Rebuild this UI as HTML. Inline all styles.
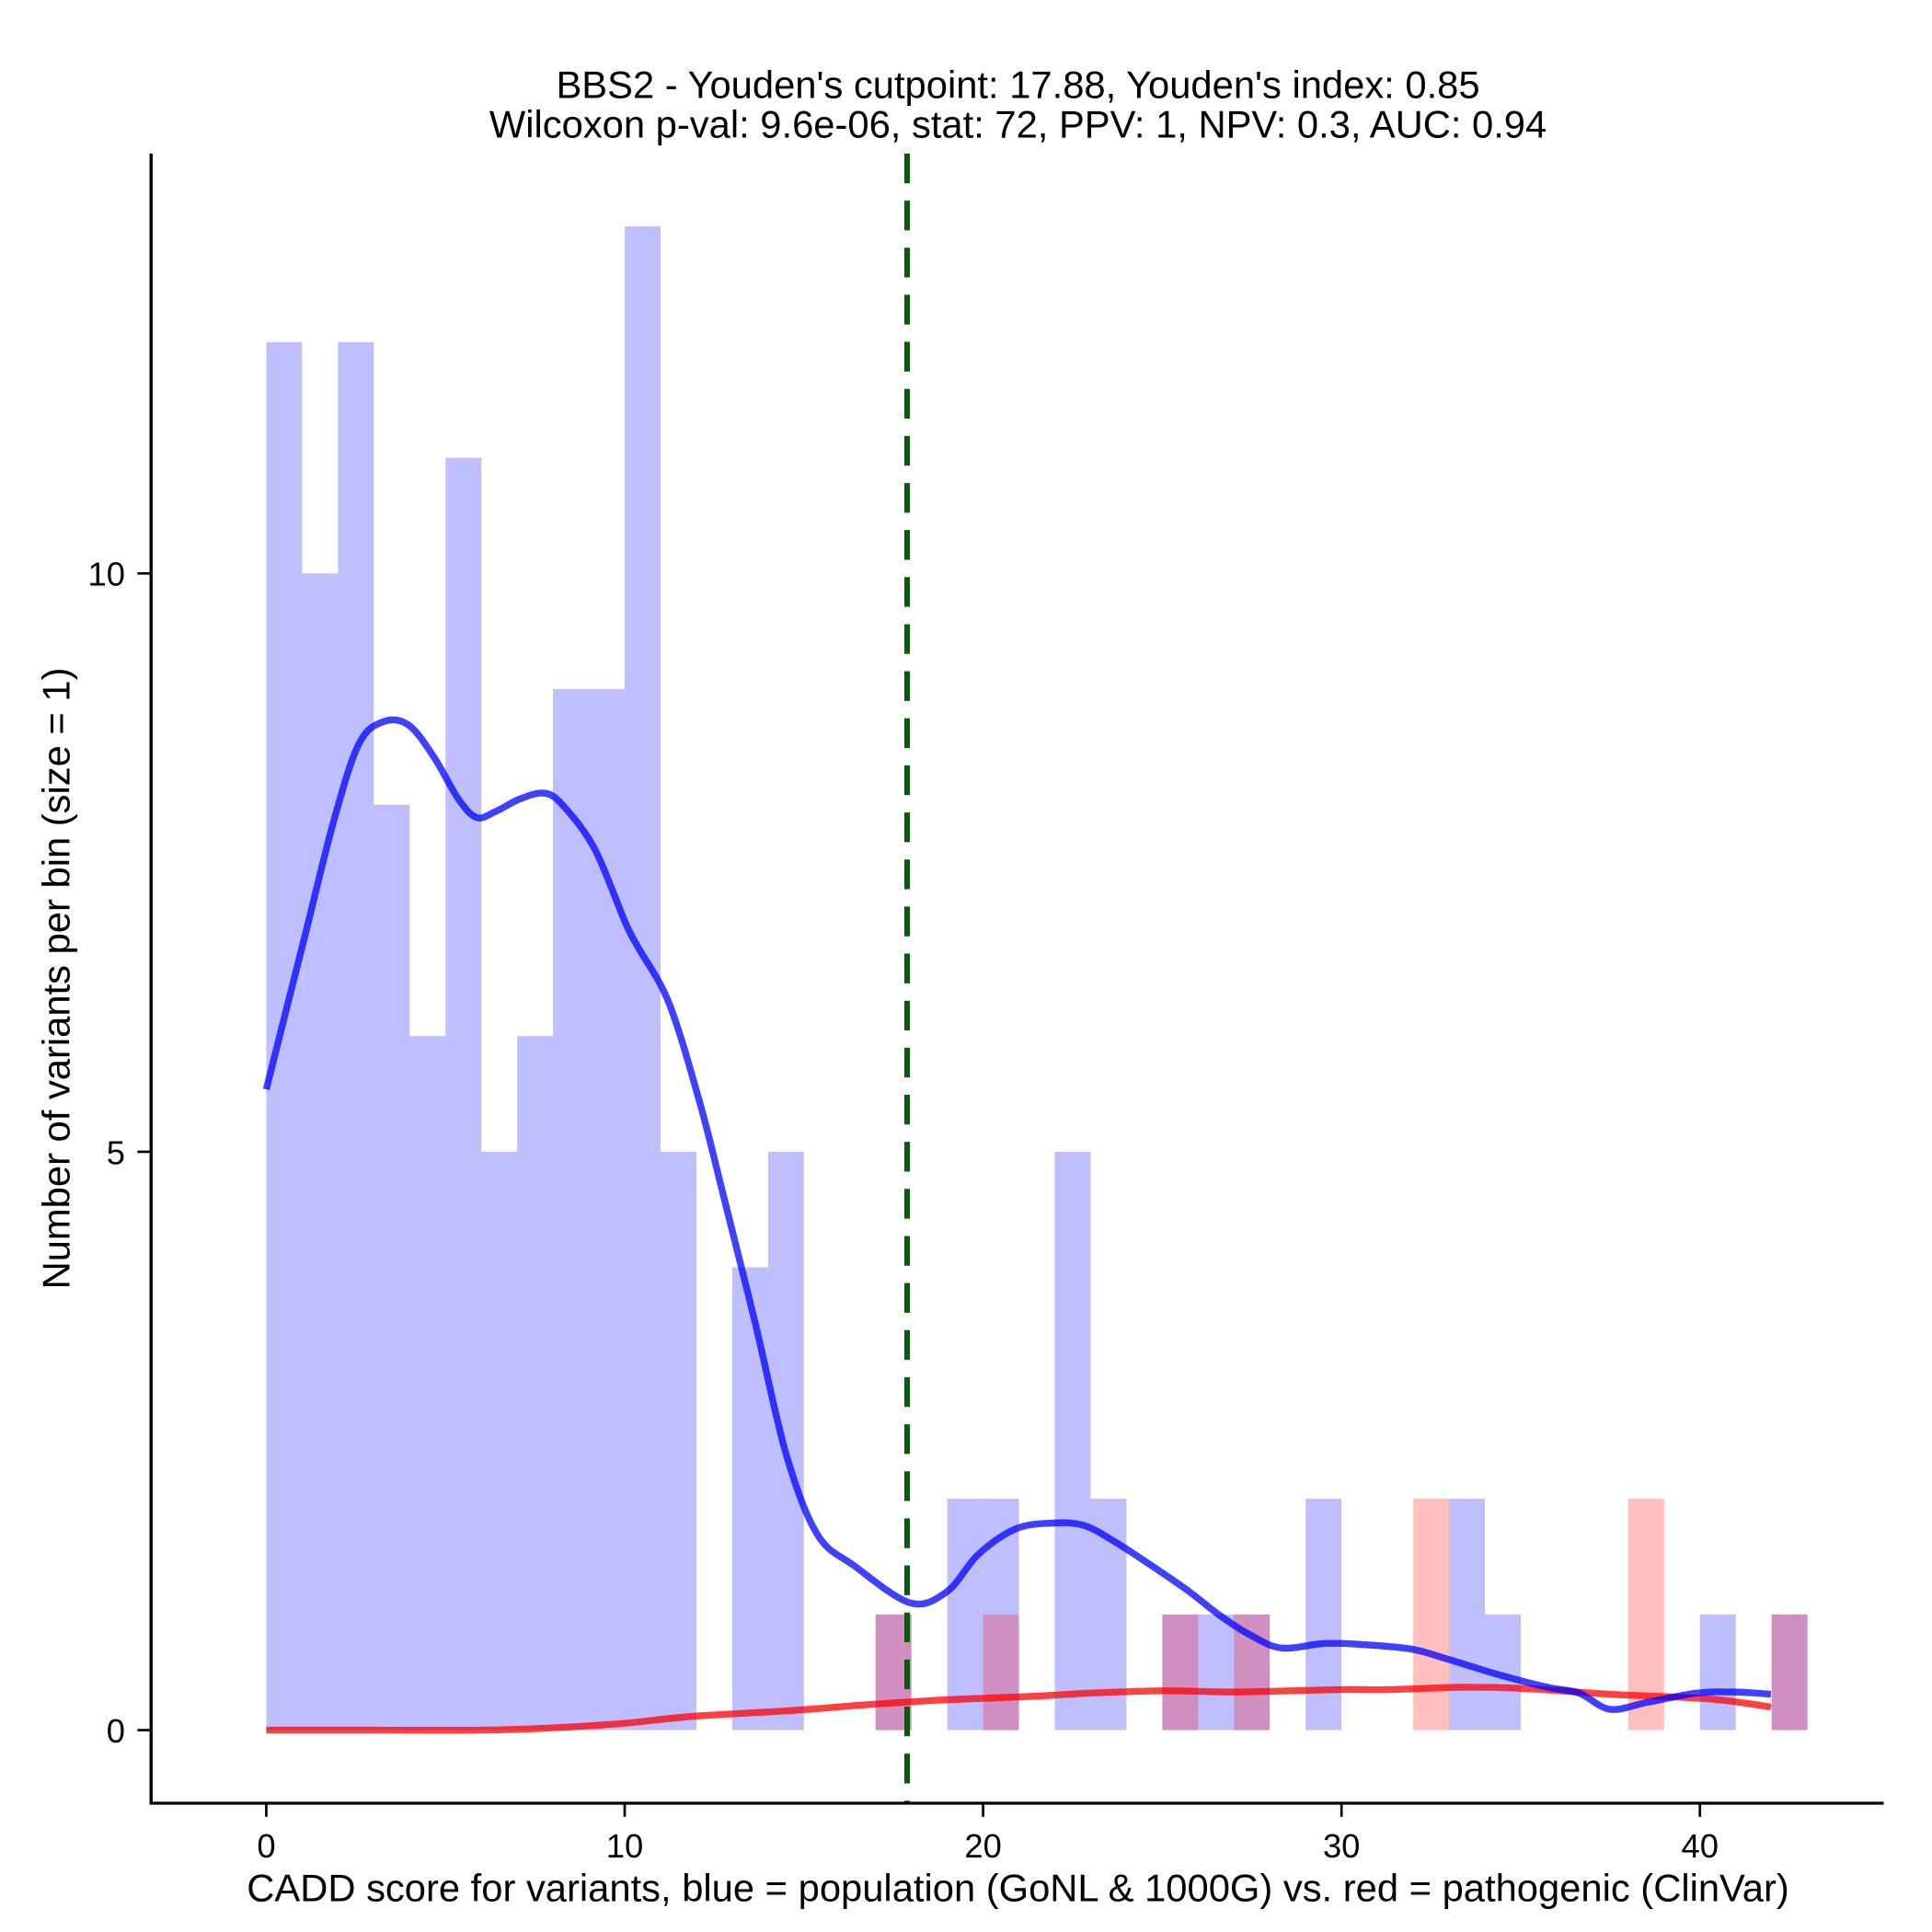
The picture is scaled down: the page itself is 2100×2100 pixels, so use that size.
<!DOCTYPE html>
<html><head><meta charset="utf-8">
<style>
html,body{margin:0;padding:0;background:#fff;}
svg{display:block;}
text{font-family:"Liberation Sans",Arial,sans-serif;fill:#000;}
</style></head>
<body>
<svg id="chart" width="2100" height="2100" viewBox="0 0 1560 1560" xmlns="http://www.w3.org/2000/svg">
<g id="bars"></g>
<g id="lines"></g>
<g id="axes"></g>
<text x="822" y="79" font-size="31" text-anchor="middle">BBS2 - Youden's cutpoint: 17.88, Youden's index: 0.85</text>
<text x="822" y="111" font-size="31" text-anchor="middle">Wilcoxon p-val: 9.6e-06, stat: 72, PPV: 1, NPV: 0.3, AUC: 0.94</text>
<text x="822" y="1535" font-size="31" text-anchor="middle">CADD score for variants, blue = population (GoNL &amp; 1000G) vs. red = pathogenic (ClinVar)</text>
<text x="0" y="0" font-size="31" text-anchor="middle" transform="translate(56,790) rotate(-90)">Number of variants per bin (size = 1)</text>
</svg>
<script>
const blueCounts = [12,10,12,8,6,11,5,6,9,9,13,5,0,4,5,0,0,1,0,2,2,0,5,2,0,1,1,1,0,2,0,0,0,2,1,0,0,0,0,0,1,0,1];
const redCounts  = [0,0,0,0,0,0,0,0,0,0,0,0,0,0,0,0,0,1,0,0,1,0,0,0,0,1,0,1,0,0,0,0,2,0,0,0,0,0,2,0,0,0,1];
const blueX = [0,1.04,1.9,2.59,3.28,3.97,4.66,5.36,5.87,6.39,7.08,7.77,8.29,9.16,10.02,10.37,11.23,12.09,12.79,13.65,14.51,15.38,16.41,17.97,19.0,19.87,20.91,21.94,22.81,23.67,24.71,25.74,26.61,27.47,28.33,29.54,30.58,31.96,33.0,34.38,35.76,36.63,37.49,38.53,39.91,40.95,41.98];
const blueY = [5.54,6.82,7.88,8.53,8.72,8.69,8.42,8.05,7.89,7.94,8.05,8.1,7.99,7.62,6.98,6.77,6.29,5.43,4.58,3.51,2.38,1.69,1.42,1.1,1.2,1.52,1.74,1.79,1.77,1.63,1.42,1.2,0.99,0.82,0.71,0.75,0.74,0.7,0.61,0.48,0.37,0.32,0.18,0.24,0.32,0.33,0.31];
const redX = [0,3,6.0,8.0,10.02,11.92,14.69,16.76,18.83,21.25,22.98,25.05,27.12,29.89,31.27,33.35,35.07,37.49,40.26,41.98];
const redY = [0,0,0,0.02,0.06,0.12,0.17,0.22,0.26,0.29,0.32,0.34,0.33,0.35,0.35,0.37,0.36,0.31,0.27,0.2];
const xTicks = [0,10,20,30,40];
const yTicks = [0,5,10];
const cutpoint = 17.88;

const NS = "http://www.w3.org/2000/svg";
const sx = v => 215 + v * 28.94;
const sy = v => 1397 - v * 93.4;
function mk(tag, attrs, parent){ const e = document.createElementNS(NS, tag); for (const k in attrs) e.setAttribute(k, attrs[k]); parent.appendChild(e); return e; }
const bars = document.getElementById('bars'), lines = document.getElementById('lines'), axes = document.getElementById('axes');

blueCounts.forEach((c, i) => {
  if (c <= 0) return;
  const r = mk('rect', {x: sx(i), y: sy(c), width: sx(i+1)-sx(i), height: sy(0)-sy(c), fill: 'rgba(0,0,255,0.25)'}, bars);
  
  
});
redCounts.forEach((c, i) => {
  if (c <= 0) return;
  const r = mk('rect', {x: sx(i), y: sy(c), width: sx(i+1)-sx(i), height: sy(0)-sy(c), fill: 'rgba(255,0,0,0.25)'}, bars);
  
  
});

function path(xs, ys){
  const p = xs.map((x,i)=>[sx(x), sy(ys[i])]);
  let d = 'M' + p[0][0].toFixed(1) + ',' + p[0][1].toFixed(1);
  for (let i = 0; i < p.length - 1; i++) {
    const p0 = p[Math.max(0,i-1)], p1 = p[i], p2 = p[i+1], p3 = p[Math.min(p.length-1,i+2)];
    const c1 = [p1[0]+(p2[0]-p0[0])/6, p1[1]+(p2[1]-p0[1])/6];
    const c2 = [p2[0]-(p3[0]-p1[0])/6, p2[1]-(p3[1]-p1[1])/6];
    d += 'C' + c1[0].toFixed(1)+','+c1[1].toFixed(1)+' '+c2[0].toFixed(1)+','+c2[1].toFixed(1)+' '+p2[0].toFixed(1)+','+p2[1].toFixed(1);
  }
  return d;
}
const rl = mk('path', {d: path(redX, redY), fill:'none', stroke:'rgba(255,0,0,0.75)', 'stroke-width':5.5, 'stroke-linejoin':'round'}, lines);


const bl = mk('path', {d: path(blueX, blueY), fill:'none', stroke:'rgba(0,0,255,0.75)', 'stroke-width':5.5, 'stroke-linejoin':'round'}, lines);


const cl = mk('line', {x1: sx(cutpoint), x2: sx(cutpoint), y1: 124, y2: 1456, stroke:'#0a5a0a', 'stroke-width':4.5, 'stroke-dasharray':'24,14'}, lines);



const ya = mk('line', {x1:122, x2:122, y1:124, y2:1457, stroke:'#000', 'stroke-width':2.5}, axes);


const xa = mk('line', {x1:121, x2:1521, y1:1456, y2:1456, stroke:'#000', 'stroke-width':2.5}, axes);



xTicks.forEach(t => {
  const l = mk('line', {x1:sx(t), x2:sx(t), y1:1456, y2:1467, stroke:'#000', 'stroke-width':2}, axes);
  
  
  const tx = mk('text', {x:sx(t), y:1500, 'font-size':27, 'text-anchor':'middle'}, axes);
  tx.textContent = t;
  
  
});
yTicks.forEach(t => {
  const l = mk('line', {x1:111, x2:122, y1:sy(t), y2:sy(t), stroke:'#000', 'stroke-width':2}, axes);
  
  
  const tx = mk('text', {x:101, y:sy(t)+10, 'font-size':27, 'text-anchor':'end'}, axes);
  tx.textContent = t;
  
  
});
</script>
</body></html>
